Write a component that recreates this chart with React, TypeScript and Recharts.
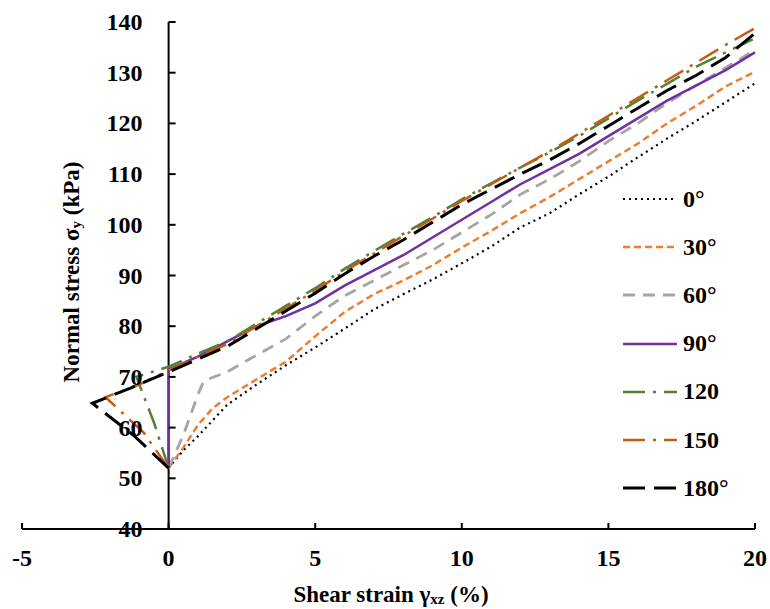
import React from 'react';
import { LineChart, Line, XAxis, YAxis, ReferenceLine } from 'recharts';

// axis ticks
const xTicks = [-5, 0, 5, 10, 15, 20];
const yTicks = [40, 50, 60, 70, 80, 90, 100, 110, 120, 130, 140];

// 0°
const strain0 = [0, 0.5, 1, 2, 3, 4, 5, 6, 7, 8, 9, 10, 11, 12, 13, 14, 15, 16, 17, 18, 19, 20];
const stress0 = [52, 55.5, 58.3, 64.5, 68.5, 72.3, 75.8, 79.5, 83.3, 86.3, 89.2, 92.4, 95.7, 99.5, 102.3, 106, 109.5, 113.3, 117, 120.5, 124.2, 127.9];

// 30°
const strain30 = [0, 0.5, 1, 1.5, 2, 3, 4, 5, 6, 7, 8, 9, 10, 11, 12, 13, 14, 15, 16, 17, 18, 19, 20];
const stress30 = [52, 56, 60.5, 63.8, 66, 69.5, 73, 78, 82.8, 86.3, 89, 92, 95.5, 98.8, 102.3, 105.5, 109, 112.5, 116, 120, 123.5, 127.3, 130.2];

// 60°
const strain60 = [0, 0.5, 1, 1.2, 2, 3, 4, 5, 6, 7, 8, 9, 10, 11, 12, 13, 14, 15, 16, 17, 18, 19, 20];
const stress60 = [52, 58.5, 66.5, 69.2, 71, 74.3, 77.5, 82, 86, 89, 92, 95, 98.5, 102, 106, 109, 112.5, 116.5, 120, 124, 127.5, 131, 134.5];

// 90°
const strain90 = [0, 0, 1, 2, 3, 4, 5, 6, 7, 8, 9, 10, 11, 12, 13, 14, 15, 16, 17, 18, 19, 20];
const stress90 = [52, 71.5, 74, 77, 80, 82, 84.5, 88, 91, 94, 97.5, 101, 104.5, 108, 111, 114, 117.5, 121, 124.5, 127.5, 130.5, 134];

// 120
const strain120 = [0, -0.5, -1.1, 0, 1, 2, 3, 4, 5, 6, 7, 8, 9, 10, 11, 12, 13, 14, 15, 16, 17, 18, 19, 20];
const stress120 = [52, 61, 70, 72, 74.6, 77, 80.5, 84, 87.5, 91.3, 94.8, 98.2, 101.5, 105, 108.2, 111.3, 114.3, 117.5, 121, 124.5, 127.8, 131.2, 134, 136.8];

// 150
const strain150 = [0, -0.85, -1.5, -2.15, -1, 0, 1, 2, 3, 4, 5, 6, 7, 8, 9, 10, 11, 12, 13, 14, 15, 16, 17, 18, 19, 20];
const stress150 = [52, 59, 62.5, 66, 68.5, 71.3, 74, 76.5, 80, 83.5, 87, 90.8, 94.3, 97.8, 101.2, 104.7, 108, 111.3, 114.5, 118, 121.5, 125, 128.5, 132, 135.5, 138.8];

// 180°
const strain180 = [0, -1.2, -2.6, -1.3, 0, 1, 2, 3, 4, 5, 6, 7, 8, 9, 10, 11, 12, 13, 14, 15, 16, 17, 18, 19, 20];
const stress180 = [52, 58.5, 64.8, 67.8, 71, 73.5, 76, 79.5, 83, 86.5, 90.3, 93.8, 97, 100.5, 104, 107, 110, 112.8, 116, 119.5, 123, 126.5, 129.5, 133, 137.8];

const zip = (xs: number[], ys: number[]) => xs.map((x, i) => ({ x, y: ys[i] }));

const series = [
  { name: '0°', color: '#000000', dash: '2 4', width: 2.2, data: zip(strain0, stress0) },
  { name: '30°', color: '#ED7D31', dash: '7 4', width: 2.5, data: zip(strain30, stress30) },
  { name: '60°', color: '#A5A5A5', dash: '12 8', width: 2.8, data: zip(strain60, stress60) },
  { name: '90°', color: '#7030A0', dash: undefined, width: 2.5, data: zip(strain90, stress90) },
  { name: '120', color: '#548235', dash: '22 8 3 8', width: 2.5, data: zip(strain120, stress120) },
  { name: '150', color: '#C55A11', dash: '22 8 3 8', width: 2.5, data: zip(strain150, stress150) },
  { name: '180°', color: '#000000', dash: '22 9', width: 3, data: zip(strain180, stress180) },
];

// whole window, body margin removed below
const W = 770;
const H = 609;
const M = { top: 22, right: 15, left: 21, bottom: 0 };
const PLOT_W = W - 22 - M.right;
const X_AXIS_H = 80;
const FONT = '"Liberation Serif", "Times New Roman", serif';
const FS = 24;

const XTick = (props: any) => {
  const { x, y, payload } = props;
  return (
    <g>
      <line x1={x} y1={y} x2={x} y2={y - 6} stroke="#000" strokeWidth={2} />
      <text x={x} y={y + 29} textAnchor="middle" dominantBaseline="central"
        fontFamily={FONT} fontWeight="bold" fontSize={FS} fill="#000">
        {payload.value}
      </text>
    </g>
  );
};

// y axis crosses at strain 0, a fifth of the way across the plot
const YTick = (props: any) => {
  const { x, y, payload } = props;
  const x0 = x + PLOT_W * 0.2;
  return (
    <g>
      <line x1={x0} y1={y} x2={x0 + 7} y2={y} stroke="#000" strokeWidth={2} />
      <text x={x0 - 26} y={y} textAnchor="end" dominantBaseline="central"
        fontFamily={FONT} fontWeight="bold" fontSize={FS} fill="#000">
        {payload.value}
      </text>
    </g>
  );
};

const App: React.FC = () => {
  return (
    <div style={{ position: 'relative', width: W, height: H, overflow: 'hidden' }}>
      <style>{'html, body { margin: 0; padding: 0; overflow: hidden; }'}</style>
      <LineChart width={W} height={H} margin={M}>
        <XAxis
          type="number"
          dataKey="x"
          domain={[-5, 20]}
          ticks={xTicks}
          height={X_AXIS_H}
          tickSize={0}
          tickMargin={0}
          tickLine={false}
          axisLine={{ stroke: '#000', strokeWidth: 2 }}
          tick={<XTick />}
          label={{
            content: () => (
              <text x={391} y={594} textAnchor="middle" dominantBaseline="central"
                fontFamily={FONT} fontWeight="bold" fontSize={23} fill="#000">
                Shear strain γ<tspan fontSize={15} dy={5}>xz</tspan><tspan dy={-5}> (%)</tspan>
              </text>
            ),
          }}
        />
        <YAxis
          type="number"
          domain={[40, 140]}
          ticks={yTicks}
          width={1}
          tickSize={0}
          tickMargin={0}
          tickLine={false}
          axisLine={false}
          tick={<YTick />}
          label={{
            content: () => (
              <text x={71} y={272} textAnchor="middle" dominantBaseline="central"
                transform="rotate(-90 71 272)"
                fontFamily={FONT} fontWeight="bold" fontSize={23} fill="#000">
                Normal stress σ<tspan fontSize={15} dy={5}>y</tspan><tspan dy={-5}> (kPa)</tspan>
              </text>
            ),
          }}
        />
        <ReferenceLine x={0} stroke="#000" strokeWidth={2} ifOverflow="extendDomain" />
        {series.map(s => (
          <Line
            key={s.name}
            data={s.data}
            dataKey="y"
            name={s.name}
            type="linear"
            stroke={s.color}
            strokeWidth={s.width}
            strokeDasharray={s.dash}
            dot={false}
            activeDot={false}
            isAnimationActive={false}
          />
        ))}
      </LineChart>
      <div style={{ position: 'absolute', left: 623, top: 175, fontFamily: FONT, fontWeight: 'bold', fontSize: FS }}>
        {series.map(s => (
          <div key={s.name} style={{ display: 'flex', alignItems: 'center', height: 48.2 }}>
            <svg width={54} height={10}>
              <line x1={0} y1={5} x2={54} y2={5} stroke={s.color} strokeWidth={s.width} strokeDasharray={s.dash} />
            </svg>
            <span style={{ marginLeft: 6 }}>{s.name}</span>
          </div>
        ))}
      </div>
    </div>
  );
};

export default App;
